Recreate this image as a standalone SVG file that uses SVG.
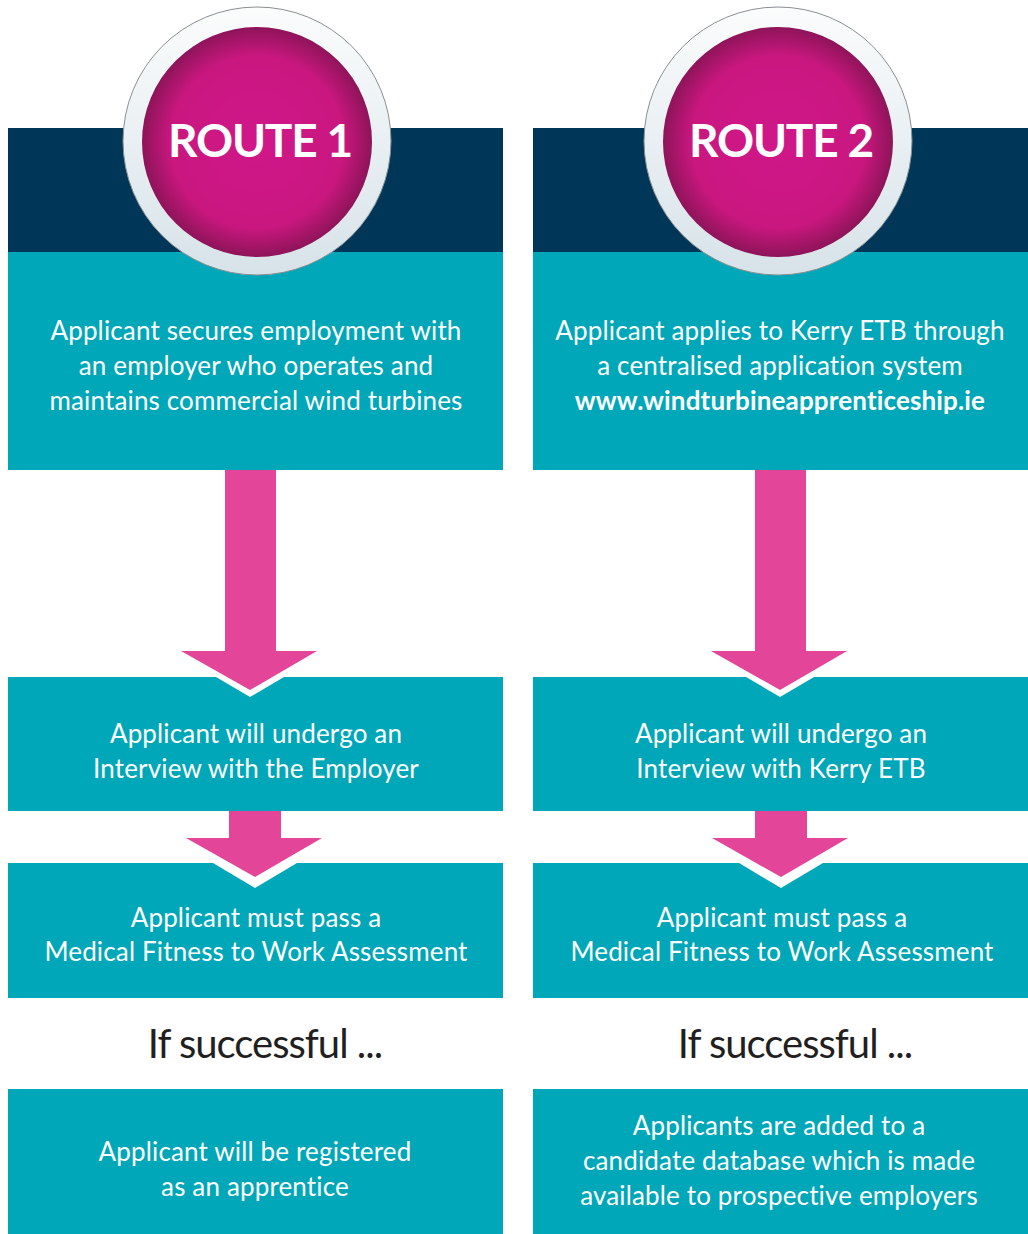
<svg xmlns="http://www.w3.org/2000/svg" width="1028" height="1234" viewBox="0 0 1028 1234">
<defs>
<radialGradient id="mag" cx="0.5" cy="0.5" r="0.5">
<stop offset="0" stop-color="#d0178a"/>
<stop offset="0.75" stop-color="#c9177f"/>
<stop offset="1" stop-color="#8e1459"/>
</radialGradient>
<linearGradient id="ring" x1="0" y1="0" x2="0" y2="1">
<stop offset="0" stop-color="#fbfcfc"/>
<stop offset="1" stop-color="#d7e3e9"/>
</linearGradient>
<style>
.teal{fill:#00a7b9}
.navy{fill:#003658}
.arrow{fill:#e34698}
.wt{fill:#ffffff;font-family:"Lato","Liberation Sans",sans-serif;font-size:26px;text-anchor:middle;letter-spacing:0.15px}
.route{fill:#ffffff;font-family:"Lato","Liberation Sans",sans-serif;font-size:46px;font-weight:bold;text-anchor:middle;letter-spacing:-1.2px}
.succ{fill:#231f20;font-family:"Lato","Liberation Sans",sans-serif;font-size:40px;text-anchor:middle;letter-spacing:-1px}
</style>
</defs>
<rect width="1028" height="1234" fill="#ffffff"/>
<g id="header1">
<rect class="navy" x="8" y="128" width="495" height="124"/>
</g>
<g id="header2">
<rect class="navy" x="533" y="128" width="495" height="124"/>
</g>
<g id="connectors">
<path class="arrow" d="M225 470 H276 V651 H317 L250 690 L181 651 H225 Z"/>
<path class="arrow" d="M755 470 H806 V651 H847 L780 690 L711 651 H755 Z"/>
<path class="arrow" d="M229 811 H281 V838 H322 L255 877 L186 838 H229 Z"/>
<path class="arrow" d="M755 811 H807 V838 H848 L781 877 L712 838 H755 Z"/>
</g>
<g id="r1box1">
<rect class="teal" x="8" y="252" width="495" height="218"/>
<text class="wt" x="256" y="340">Applicant secures employment with</text>
<text class="wt" x="256" y="375">an employer who operates and</text>
<text class="wt" x="256" y="410">maintains commercial wind turbines</text>
</g>
<g id="r2box1">
<rect class="teal" x="533" y="252" width="495" height="218"/>
<text class="wt" x="780" y="340">Applicant applies to Kerry ETB through</text>
<text class="wt" x="780" y="375">a centralised application system</text>
<text class="wt" x="780" y="410" font-weight="bold" letter-spacing="0.4">www.windturbineapprenticeship.ie</text>
</g>
<g id="r1box2">
<path class="teal" d="M8 677 H216 L250 697 L284 677 H503 V811 H8 Z"/>
<text class="wt" x="256" y="743">Applicant will undergo an</text>
<text class="wt" x="256" y="778">Interview with the Employer</text>
</g>
<g id="r2box2">
<path class="teal" d="M533 677 H746 L780 697 L814 677 H1028 V811 H533 Z"/>
<text class="wt" x="781" y="743">Applicant will undergo an</text>
<text class="wt" x="781" y="778">Interview with Kerry ETB</text>
</g>
<g id="r1box3">
<path class="teal" d="M8 863 H213 L255 888 L297 863 H503 V998 H8 Z"/>
<text class="wt" x="256" y="927">Applicant must pass a</text>
<text class="wt" x="256" y="961">Medical Fitness to Work Assessment</text>
</g>
<g id="r2box3">
<path class="teal" d="M533 863 H739 L781 888 L823 863 H1028 V998 H533 Z"/>
<text class="wt" x="782" y="927">Applicant must pass a</text>
<text class="wt" x="782" y="961">Medical Fitness to Work Assessment</text>
</g>
<g id="succ1"><text class="succ" x="265" y="1058">If successful ...</text></g>
<g id="succ2"><text class="succ" x="795" y="1058">If successful ...</text></g>
<g id="r1box4">
<rect class="teal" x="8" y="1089" width="495" height="145"/>
<text class="wt" x="255" y="1161">Applicant will be registered</text>
<text class="wt" x="255" y="1196">as an apprentice</text>
</g>
<g id="r2box4">
<rect class="teal" x="533" y="1089" width="495" height="145"/>
<text class="wt" x="779" y="1135">Applicants are added to a</text>
<text class="wt" x="779" y="1170">candidate database which is made</text>
<text class="wt" x="779" y="1205">available to prospective employers</text>
</g>
<g id="route1">
<circle cx="257" cy="141" r="134" fill="url(#ring)" stroke="#8a8f92" stroke-width="1"/>
<circle cx="257" cy="142" r="115" fill="url(#mag)"/>
<text class="route" x="260" y="157">ROUTE 1</text>
</g>
<g id="route2">
<circle cx="778" cy="141" r="134" fill="url(#ring)" stroke="#8a8f92" stroke-width="1"/>
<circle cx="778" cy="142" r="115" fill="url(#mag)"/>
<text class="route" x="781" y="157">ROUTE 2</text>
</g>
</svg>
